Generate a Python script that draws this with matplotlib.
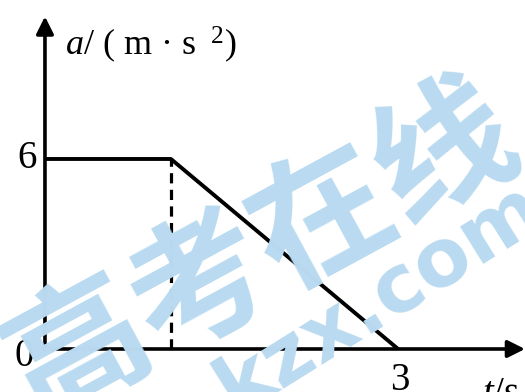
import numpy as np
import matplotlib
matplotlib.use("Agg")
import matplotlib.pyplot as plt

plt.rcParams["font.family"] = ["Liberation Serif", "DejaVu Serif"]
plt.rcParams["mathtext.fontset"] = "custom"
plt.rcParams["mathtext.rm"] = "Liberation Serif"
plt.rcParams["mathtext.it"] = "Liberation Serif:italic"

# a-t graph
t_vals = [0.0, 1.07, 3.0]     # s
a_vals = [6.0, 6.0, 0.0]      # m/s^2
t_knee = 1.07
a_max = 6
t_tick = 3
y_label = "$a$/ ( m · s $^{\\ 2}$)"
x_label = "$t$/s"
watermark_cn = "高考在线"
watermark_en = "kzx.com"

fig = plt.figure(figsize=(5.25, 3.92), dpi=100)
ax = fig.add_axes([0, 0, 1, 1])
ax.set_xlim(-0.382, 4.078)
ax.set_ylim(-1.358, 11.02)
ax.axis("off")

# watermark (light blue, behind everything)
wm_color = "#b9daf0"
fig.text(262 / 525, 1 - 252 / 392, watermark_cn, rotation=28.5,
         ha="center", va="center", rotation_mode="anchor",
         fontsize=100, fontweight="heavy", color=wm_color,
         family=["Noto Sans CJK SC", "DejaVu Sans"], zorder=0)
fig.text(380 / 525, 1 - 298 / 392, watermark_en, rotation=32,
         ha="center", va="center", rotation_mode="anchor",
         fontsize=58, fontweight="bold", color=wm_color,
         family=["DejaVu Sans"], zorder=0)

# axes with arrow heads
arrow = dict(arrowstyle="-|>", lw=2.6, color="black",
             mutation_scale=26, shrinkA=0, shrinkB=0)
ax.annotate("", xy=(0, 10.5), xytext=(0, -0.05), arrowprops=arrow, zorder=3)
ax.annotate("", xy=(4.078, 0), xytext=(-0.018, 0), arrowprops=arrow, zorder=3)

ax.plot(t_vals, a_vals, color="black", lw=2.8, solid_capstyle="butt", zorder=3)
ax.plot([t_knee, t_knee], [0, a_max], color="black", lw=2.3,
        linestyle=(0, (3.2, 2.0)), zorder=3)

fs = 28
ax.text(-0.155, a_max, str(a_max), ha="center", va="center", fontsize=fs, zorder=4)
ax.text(-0.18, -0.25, "0", ha="center", va="center", fontsize=fs, zorder=4)
ax.text(t_tick + 0.015, -0.42, str(t_tick), ha="center", va="top", fontsize=fs, zorder=4)
ax.text(3.71, -0.85, x_label, ha="left", va="top", fontsize=fs, zorder=4)
ax.text(0.17, 9.28, y_label, ha="left", va="baseline", fontsize=26, zorder=4)

fig.savefig("out.png", dpi=100)
